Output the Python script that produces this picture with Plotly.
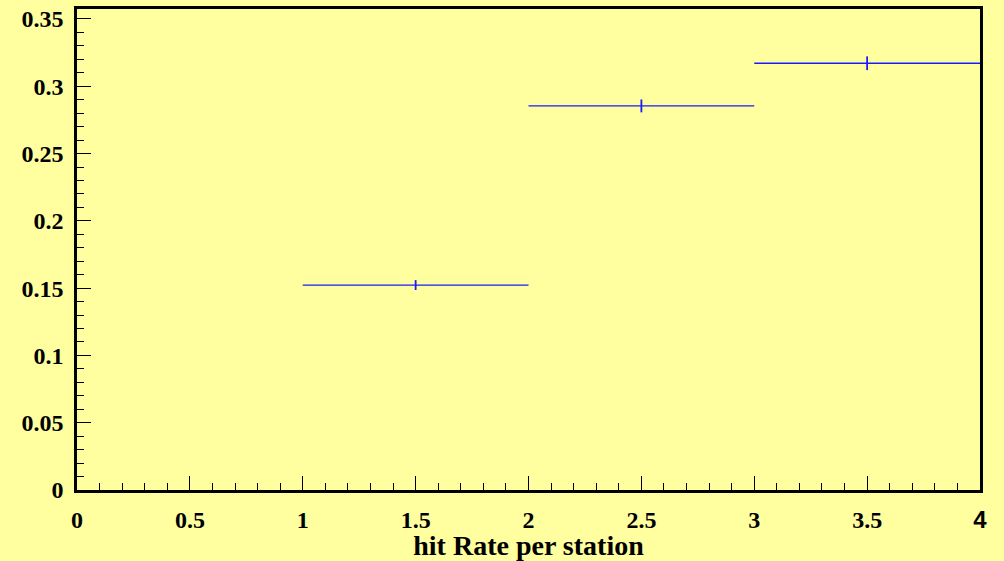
import plotly.graph_objects as go

# Histogram bins and contents
bin_low = [1.0, 2.0, 3.0]
bin_high = [2.0, 3.0, 4.0]
bin_content = [0.1523, 0.2854, 0.3171]
bin_error = [0.0037, 0.0048, 0.0051]

x_range = [0, 4]
y_range = [0, 0.3574]

x_tickvals = [0, 0.5, 1, 1.5, 2, 2.5, 3, 3.5, 4]
x_ticktext = ["0", "0.5", "1", "1.5", "2", "2.5", "3", "3.5", "4"]
y_tickvals = [0, 0.05, 0.1, 0.15, 0.2, 0.25, 0.3, 0.35]
y_ticktext = ["0", "0.05", "0.1", "0.15", "0.2", "0.25", "0.3", "0.35"]

bg = "#ffffa0"
serif = "Liberation Serif"
sans = "Liberation Sans"

# Horizontal bin segments
seg_x, seg_y = [], []
for lo, hi, v in zip(bin_low, bin_high, bin_content):
    seg_x += [lo, hi, None]
    seg_y += [v, v, None]

centers = [(lo + hi) / 2 for lo, hi in zip(bin_low, bin_high)]

fig = go.Figure()
fig.add_trace(go.Scatter(
    x=seg_x, y=seg_y, mode="lines",
    line=dict(color="#1a1aff", width=1.3),
    hoverinfo="skip", showlegend=False,
))
fig.add_trace(go.Scatter(
    x=centers, y=bin_content, mode="markers",
    marker=dict(size=0.1, color="#1a1aff"),
    error_y=dict(type="data", array=bin_error, color="#1a1aff",
                 thickness=1.8, width=0),
    showlegend=False,
))

axis_common = dict(
    showgrid=False, zeroline=False, automargin=False,
    showline=True, linecolor="black", linewidth=2.5, mirror=True,
    ticks="inside", ticklen=14, tickwidth=1, tickcolor="black",
    tickfont=dict(family=serif, size=24, color="black"),
)

def bold(labels):
    out = []
    for t in labels:
        out.append("<b>" + t + "</b>")
    return out

# last x label is drawn in a sans face
xt = bold(x_ticktext)
xt[-1] = '<span style="font-family:' + sans + '"><b>' + x_ticktext[-1] + "</b></span>"

fig.update_xaxes(
    range=x_range, tickmode="array", tickvals=x_tickvals, ticktext=xt,
    minor=dict(dtick=0.1, tick0=0, ticks="inside", ticklen=7, tickwidth=1, tickcolor="black"),
    title=dict(text="<b>hit Rate per station</b>", standoff=0,
               font=dict(family=serif, size=28, color="black")),
    ticklabelstandoff=6,
    **axis_common,
)
fig.update_yaxes(
    range=y_range, tickmode="array", tickvals=y_tickvals, ticktext=bold(y_ticktext),
    minor=dict(dtick=0.01, tick0=0, ticks="inside", ticklen=7, tickwidth=1, tickcolor="black"),
    ticklabelstandoff=6,
    **axis_common,
)

fig.update_layout(
    width=1004, height=561,
    margin=dict(l=77, r=24, t=9, b=71),
    paper_bgcolor=bg, plot_bgcolor=bg,
    font=dict(family=serif, color="black"),
)

fig.write_html("out.html")
